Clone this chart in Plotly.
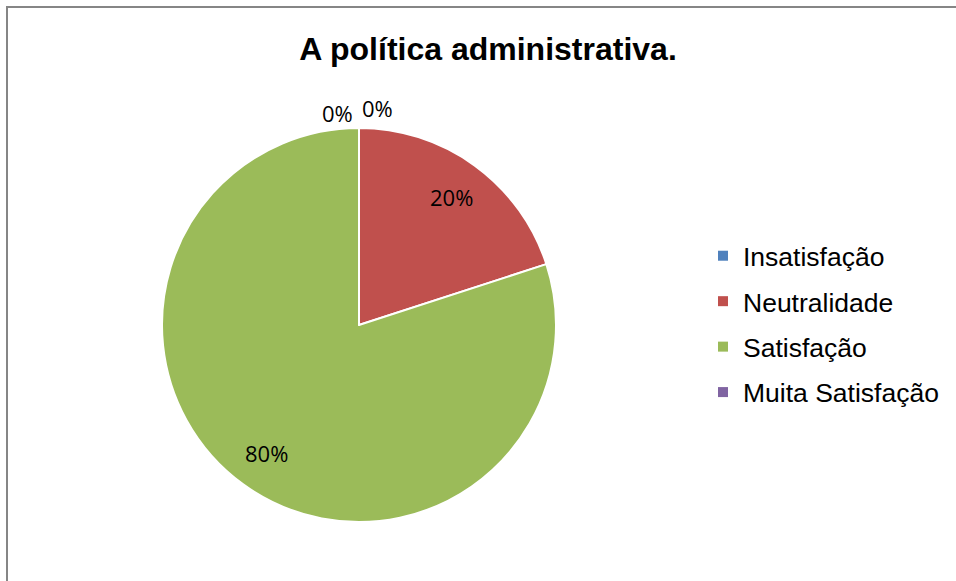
import math
import plotly.graph_objects as go

labels = ["Insatisfação", "Neutralidade", "Satisfação", "Muita Satisfação"]
values = [0, 20, 80, 0]
colors = ["#4F81BD", "#C0504D", "#9BBB59", "#8064A2"]
title_text = "A política administrativa."

W, H = 956, 581
cx, cy, r = 359, 325, 197  # pie centre / radius in pixels

fig = go.Figure()
fig.add_trace(go.Pie(
    labels=labels, values=values, sort=False, direction="clockwise", rotation=0,
    marker=dict(colors=colors, line=dict(color="white", width=2)),
    textinfo="none", hoverinfo="label+percent",
    domain=dict(x=[(cx - r) / W, (cx + r) / W], y=[(H - cy - r) / H, (H - cy + r) / H]),
    showlegend=False,
))

# legend entries (one per category, so the row spacing can be set)
for lab, col in zip(labels, colors):
    fig.add_trace(go.Scatter(
        x=[None], y=[None], mode="markers", name=lab, legendgroup=lab,
        marker=dict(symbol="square", size=10, color=col), showlegend=True,
        hoverinfo="skip",
    ))

# data labels placed from the data (cumulative angles)
total = sum(values)
cum = 0
annotations = []
zero_offsets = {0: 18, 3: -22}
zero_lift = {0: 20, 3: 15}
for i, v in enumerate(values):
    start = cum
    cum += v
    mid = (start + cum) / 2 / total * 2 * math.pi
    pct = f"{round(v / total * 100)}%"
    if v > 0:
        d = 0.8 * r
        px = cx + d * math.sin(mid)
        py = cy - d * math.cos(mid)
    else:
        px = cx + zero_offsets[i]
        py = cy - r - zero_lift[i]
    annotations.append(dict(
        x=px / W, y=1 - py / H, xref="paper", yref="paper", text=pct, showarrow=False,
        font=dict(family="Open Sans", size=22, color="#000000"),
        xanchor="center", yanchor="middle",
    ))

fig.update_layout(
    width=W, height=H,
    margin=dict(l=0, r=0, t=0, b=0),
    paper_bgcolor="white", plot_bgcolor="white",
    xaxis=dict(visible=False), yaxis=dict(visible=False),
    title=dict(text=f"<b>{title_text}</b>", x=488 / W, xanchor="center",
               y=1 - 49 / H, yanchor="middle", yref="container",
               font=dict(family="Liberation Sans", size=32, color="#000000")),
    legend=dict(x=703 / W, y=1 - 232 / H, xanchor="left", yanchor="top",
                font=dict(family="Liberation Sans", size=26.5, color="#000000"),
                itemwidth=30, tracegroupgap=8, bgcolor="rgba(0,0,0,0)",
                traceorder="grouped"),
    annotations=annotations,
    shapes=[dict(type="rect", xref="paper", yref="paper",
                 x0=7 / W, x1=1.05, y0=-0.05, y1=1 - 7 / H,
                 line=dict(color="#868686", width=2))],
)

fig.write_html("out.html")
